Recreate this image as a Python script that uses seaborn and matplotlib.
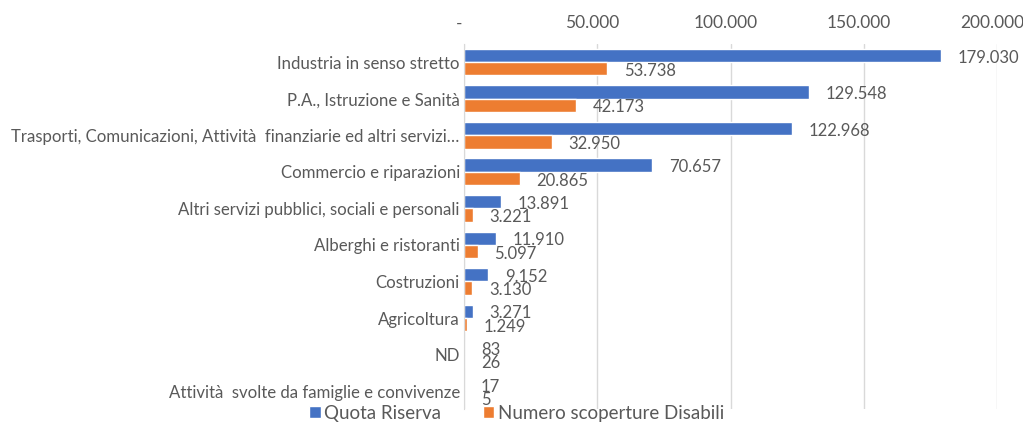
import pandas as pd
import matplotlib.pyplot as plt
import matplotlib.transforms as mtransforms
import seaborn as sns

categories = [
    "Industria in senso stretto",
    "P.A., Istruzione e Sanità",
    "Trasporti, Comunicazioni, Attività  finanziarie ed altri servizi…",
    "Commercio e riparazioni",
    "Altri servizi pubblici, sociali e personali",
    "Alberghi e ristoranti",
    "Costruzioni",
    "Agricoltura",
    "ND",
    "Attività  svolte da famiglie e convivenze",
]
quota_riserva = [179030, 129548, 122968, 70657, 13891, 11910, 9152, 3271, 83, 17]
scoperture = [53738, 42173, 32950, 20865, 3221, 5097, 3130, 1249, 26, 5]
series_names = ["Quota Riserva", "Numero scoperture Disabili"]
x_ticks = [0, 50000, 100000, 150000, 200000]


def it_fmt(v):
    return "-" if v == 0 else f"{v:,.0f}".replace(",", ".")


df = pd.DataFrame({
    "settore": categories * 2,
    "valore": quota_riserva + scoperture,
    "serie": [series_names[0]] * len(categories) + [series_names[1]] * len(categories),
})

sns.set_style("white")
plt.rcParams["font.family"] = ["Lato", "DejaVu Sans"]
text_col = "#595959"

fig = plt.figure(figsize=(10.23, 4.26), dpi=100)
ax = fig.add_axes([0.4536, 0.039, 0.521, 0.858])

sns.barplot(data=df, y="settore", x="valore", hue="serie", orient="h",
            palette=["#4472C4", "#ED7D31"], saturation=1, width=0.73,
            ax=ax, legend=True)

# etichette dati: a destra della barra, leggermente abbassate
for cont in ax.containers:
    for bar in cont:
        w = bar.get_width()
        yc = bar.get_y() + bar.get_height() / 2
        ax.annotate(it_fmt(w), (w, yc), xytext=(12, -1.5), textcoords="offset points",
                    ha="left", va="center", fontsize=12, color=text_col,
                    annotation_clip=False)

ax.set_xlim(0, 200000)
ax.set_xticks(x_ticks)
ax.set_xticklabels([it_fmt(t) for t in x_ticks])
ax.xaxis.tick_top()
ax.tick_params(axis="x", length=0, labelsize=12.5, labelcolor=text_col, pad=9)
shift = mtransforms.ScaledTranslation(-5 / 100, 0, fig.dpi_scale_trans)
for lbl in ax.get_xticklabels():
    lbl.set_transform(lbl.get_transform() + shift)
ax.tick_params(axis="y", length=0, labelsize=12.1, labelcolor=text_col, pad=3)
ax.grid(axis="x", color="#D9D9D9", linewidth=1)
ax.set_axisbelow(True)
for s in ["top", "right", "bottom"]:
    ax.spines[s].set_visible(False)
ax.spines["left"].set_color("#D9D9D9")
ax.set_xlabel("")
ax.set_ylabel("")

ax.legend(loc="center", bbox_to_anchor=(0.505, 0.03), bbox_transform=fig.transFigure,
          ncol=2, frameon=False, fontsize=13.5, labelcolor=text_col,
          handlelength=0.6, handleheight=0.6, handletextpad=0.2, columnspacing=2.2,
          borderpad=0, borderaxespad=0)

fig.savefig("out.png", dpi=100)
